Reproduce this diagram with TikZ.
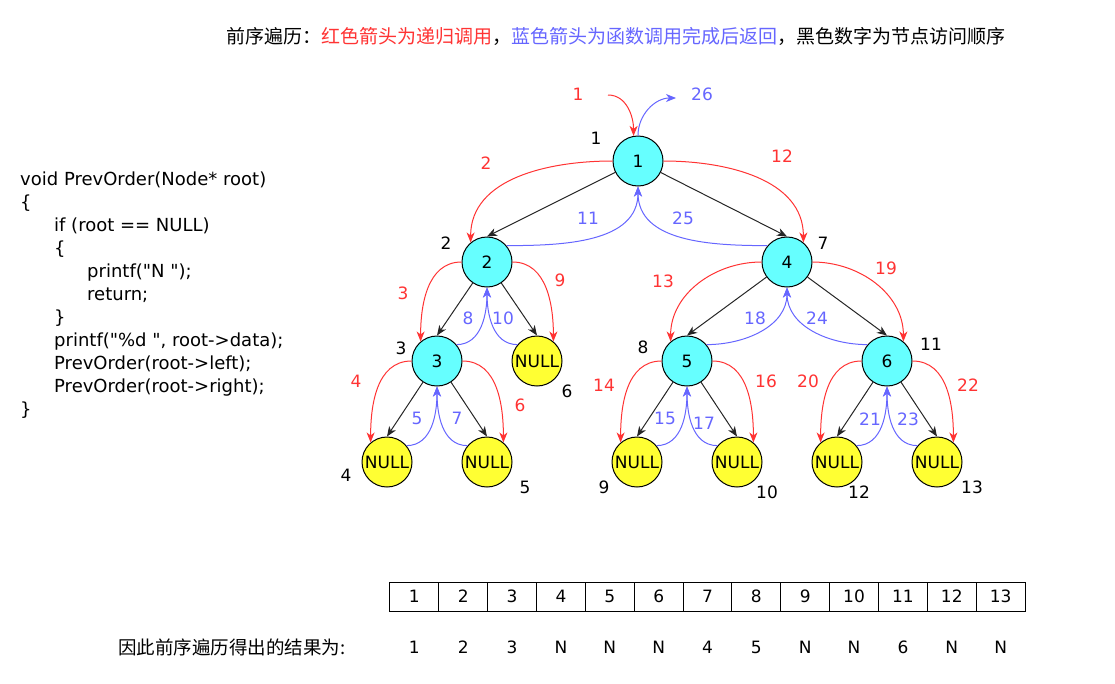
\documentclass[tikz,border=0pt]{standalone}
\usepackage{fontspec}
\setmainfont{DejaVu Sans}
\newfontfamily\cjk{Noto Sans CJK SC}
\usetikzlibrary{arrows.meta, positioning}
\definecolor{nodecyan}{RGB}{102, 255, 255}
\definecolor{nodeyellow}{RGB}{255, 255, 51}
\definecolor{callred}{RGB}{255, 51, 51}
\definecolor{retblue}{RGB}{102, 102, 255}

\begin{document}
\begin{tikzpicture}[
  x=1pt, y=-1pt,
  every node/.style = {font=\fontsize{17}{19}\selectfont},
  treenode/.style = {circle, draw, line width=1pt, fill=#1,
                     minimum size=50pt, inner sep=0pt},
  nullnode/.style = {treenode=nodeyellow},
  order/.style    = {inner sep=0pt},
  callnum/.style  = {inner sep=0pt, text=callred},
  retnum/.style   = {inner sep=0pt, text=retblue},
  link/.style     = {-{Stealth[length=10pt, width=8pt, inset=3pt]}, line width=1pt, black!85},
  call/.style     = {-{Stealth[length=10pt, width=8pt, inset=3pt]}, line width=1pt, callred},
  ret/.style      = {-{Stealth[length=10pt, width=8pt, inset=3pt]}, line width=1pt, retblue},
  cell/.style     = {rectangle, draw, line width=1pt, minimum width=48.85pt,
                     minimum height=29pt, inner sep=0pt, outer sep=0pt},
  result/.style   = {inner sep=0pt}
]
\useasboundingbox (0,0) rectangle (1115,683);

% title
\node[anchor=west, inner sep=0pt, font=\cjk\fontsize{19}{21}\selectfont] (title) at (226,36)
  {前序遍历：\textcolor{callred}{红色箭头为递归调用}，\textcolor{retblue}{蓝色箭头为函数调用完成后返回}，黑色数字为节点访问顺序};

% code
\node[anchor=north west, inner sep=0pt, align=left, font=\fontsize{18}{23}\selectfont] (code) at (20,172)
  {void PrevOrder(Node* root)\\
   \{\\
   \hspace*{34pt}if (root == NULL)\\
   \hspace*{34pt}\{\\
   \hspace*{67pt}printf(\textquotedbl N \textquotedbl);\\
   \hspace*{67pt}return;\\
   \hspace*{34pt}\}\\
   \hspace*{34pt}printf(\textquotedbl\%d \textquotedbl, root->data);\\
   \hspace*{34pt}PrevOrder(root->left);\\
   \hspace*{34pt}PrevOrder(root->right);\\
   \}};

% tree
\node[treenode=nodecyan] (n1) at (638,161) {1};
\node[treenode=nodecyan] (n2) at (487,262) {2};
\node[treenode=nodecyan] (n4) at (787,262) {4};
\node[treenode=nodecyan] (n3) at (437,361) {3};
\node[nullnode]          (null6) at (537,361) {NULL};
\node[treenode=nodecyan] (n5) at (687,361) {5};
\node[treenode=nodecyan] (n6) at (887,361) {6};
\node[nullnode] (null4)  at (387,462) {NULL};
\node[nullnode] (null5)  at (487,462) {NULL};
\node[nullnode] (null9)  at (637,462) {NULL};
\node[nullnode] (null10) at (737,462) {NULL};
\node[nullnode] (null12) at (837,462) {NULL};
\node[nullnode] (null13) at (937,462) {NULL};

% visiting order
\node[order] (o1)  at (596,138) {1};
\node[order] (o2)  at (446,243) {2};
\node[order] (o3)  at (401,348) {3};
\node[order] (o4)  at (346,475) {4};
\node[order] (o5)  at (525,487) {5};
\node[order] (o6)  at (567,391) {6};
\node[order] (o7)  at (823,243) {7};
\node[order] (o8)  at (643,347) {8};
\node[order] (o9)  at (604,487) {9};
\node[order] (o10) at (767,492) {10};
\node[order] (o11) at (931,344) {11};
\node[order] (o12) at (859,492) {12};
\node[order] (o13) at (972,487) {13};

% call steps
\node[callnum] (s1)  at (578,94)  {1};
\node[callnum] (s2)  at (486,163) {2};
\node[callnum] (s3)  at (403,293) {3};
\node[callnum] (s4)  at (356,381) {4};
\node[callnum] (s6)  at (520,405) {6};
\node[callnum] (s9)  at (560,280) {9};
\node[callnum] (s12) at (782,156) {12};
\node[callnum] (s13) at (663,281) {13};
\node[callnum] (s14) at (604,385) {14};
\node[callnum] (s16) at (766,381) {16};
\node[callnum] (s19) at (886,268) {19};
\node[callnum] (s20) at (808,381) {20};
\node[callnum] (s22) at (968,385) {22};

% return steps
\node[retnum] (s5)  at (417,418) {5};
\node[retnum] (s7)  at (457,418) {7};
\node[retnum] (s8)  at (468,318) {8};
\node[retnum] (s10) at (503,318) {10};
\node[retnum] (s11) at (588,218) {11};
\node[retnum] (s15) at (665,418) {15};
\node[retnum] (s17) at (704,423) {17};
\node[retnum] (s18) at (755,318) {18};
\node[retnum] (s21) at (870,419) {21};
\node[retnum] (s23) at (908,419) {23};
\node[retnum] (s24) at (817,318) {24};
\node[retnum] (s25) at (683,218) {25};
\node[retnum] (s26) at (702,94)  {26};

\coordinate (entry) at (608,95);
\coordinate (exit)  at (676,98);

\draw[link] (n1) -- (n2.north);
\draw[link] (n1) -- (n4.north);
\draw[link] (n2) -- (n3.north);
\draw[link] (n2) -- (null6.north);
\draw[link] (n3) -- (null4.north);
\draw[link] (n3) -- (null5.north);
\draw[link] (n4) -- (n5.north);
\draw[link] (n4) -- (n6.north);
\draw[link] (n5) -- (null9.north);
\draw[link] (n5) -- (null10.north);
\draw[link] (n6) -- (null12.north);
\draw[link] (n6) -- (null13.north);

\draw[call] (entry)    to[out=0,in=90]   (n1.100);
\draw[call] (n1.west)  to[out=180,in=90] (n2.130);
\draw[call] (n1.east)  to[out=0,in=90]   (n4.50);
\draw[call] (n2.west)  to[out=180,in=90] (n3.130);
\draw[call] (n2.east)  to[out=0,in=90]   (null6.50);
\draw[call] (n3.west)  to[out=180,in=90] (null4.130);
\draw[call] (n3.east)  to[out=0,in=90]   (null5.50);
\draw[call] (n4.west)  to[out=180,in=90] (n5.130);
\draw[call] (n4.east)  to[out=0,in=90]   (n6.50);
\draw[call] (n5.west)  to[out=180,in=90] (null9.130);
\draw[call] (n5.east)  to[out=0,in=90]   (null10.50);
\draw[call] (n6.west)  to[out=180,in=90] (null12.130);
\draw[call] (n6.east)  to[out=0,in=90]   (null13.50);

\draw[ret] (n1.north)    to[out=90,in=180] (exit);
\draw[ret] (n2.40)       to[out=0,in=-90]   (n1.south);
\draw[ret] (n4.140)      to[out=180,in=-90] (n1.south);
\draw[ret] (n3.40)       to[out=0,in=-90]   (n2.south);
\draw[ret] (null6.140)   to[out=180,in=-90] (n2.south);
\draw[ret] (null4.40)    to[out=0,in=-90]   (n3.south);
\draw[ret] (null5.140)   to[out=180,in=-90] (n3.south);
\draw[ret] (n5.40)       to[out=0,in=-90]   (n4.south);
\draw[ret] (n6.140)      to[out=180,in=-90] (n4.south);
\draw[ret] (null9.40)    to[out=0,in=-90]   (n5.south);
\draw[ret] (null10.140)  to[out=180,in=-90] (n5.south);
\draw[ret] (null12.40)   to[out=0,in=-90]   (n6.south);
\draw[ret] (null13.140)  to[out=180,in=-90] (n6.south);

% order array
\node[cell] (c1) at (414.4,596.5) {1};
\node[cell, right=0pt of c1]  (c2)  {2};
\node[cell, right=0pt of c2]  (c3)  {3};
\node[cell, right=0pt of c3]  (c4)  {4};
\node[cell, right=0pt of c4]  (c5)  {5};
\node[cell, right=0pt of c5]  (c6)  {6};
\node[cell, right=0pt of c6]  (c7)  {7};
\node[cell, right=0pt of c7]  (c8)  {8};
\node[cell, right=0pt of c8]  (c9)  {9};
\node[cell, right=0pt of c9]  (c10) {10};
\node[cell, right=0pt of c10] (c11) {11};
\node[cell, right=0pt of c11] (c12) {12};
\node[cell, right=0pt of c12] (c13) {13};

% result row
\node[anchor=west, inner sep=0pt, font=\cjk\fontsize{18.5}{20}\selectfont] (reslabel) at (118,647) {因此前序遍历得出的结果为:};
\node[result] (res1)  at ([yshift=-50.5pt]c1.center)  {1};
\node[result] (res2)  at ([yshift=-50.5pt]c2.center)  {2};
\node[result] (res3)  at ([yshift=-50.5pt]c3.center)  {3};
\node[result] (res4)  at ([yshift=-50.5pt]c4.center)  {N};
\node[result] (res5)  at ([yshift=-50.5pt]c5.center)  {N};
\node[result] (res6)  at ([yshift=-50.5pt]c6.center)  {N};
\node[result] (res7)  at ([yshift=-50.5pt]c7.center)  {4};
\node[result] (res8)  at ([yshift=-50.5pt]c8.center)  {5};
\node[result] (res9)  at ([yshift=-50.5pt]c9.center)  {N};
\node[result] (res10) at ([yshift=-50.5pt]c10.center) {N};
\node[result] (res11) at ([yshift=-50.5pt]c11.center) {6};
\node[result] (res12) at ([yshift=-50.5pt]c12.center) {N};
\node[result] (res13) at ([yshift=-50.5pt]c13.center) {N};
\end{tikzpicture}
\end{document}
